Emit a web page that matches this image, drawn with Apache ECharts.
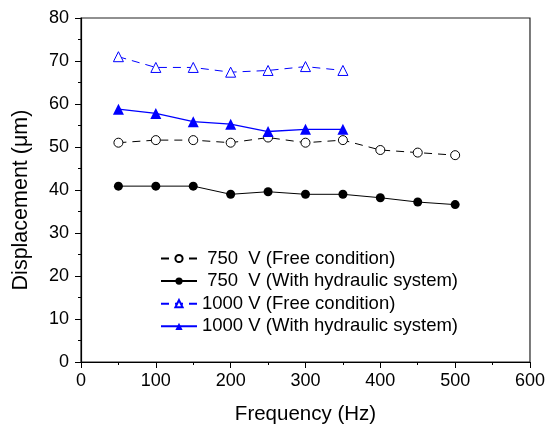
<!DOCTYPE html>
<html>
<head>
<meta charset="utf-8">
<script src="https://cdn.jsdelivr.net/npm/echarts@6/dist/echarts.min.js"></script>
<style>
html, body { margin: 0; padding: 0; background: #fff; }
#chart { width: 548px; height: 430px; }
</style>
</head>
<body>
<div id="chart"></div>
<script>
// 数据
var freqLong = [50, 100, 150, 200, 250, 300, 350, 400, 450, 500];
var freqShort = [50, 100, 150, 200, 250, 300, 350];
var v750Free = [51.0, 51.6, 51.6, 51.0, 52.2, 51.0, 51.6, 49.3, 48.7, 48.1];
var v750Hyd = [40.9, 40.9, 40.9, 39.0, 39.6, 39.0, 39.0, 38.2, 37.2, 36.6];
var v1000Free = [71.0, 68.5, 68.5, 67.4, 67.8, 68.7, 67.8];
var v1000Hyd = [58.8, 57.8, 55.9, 55.3, 53.6, 54.1, 54.1];
var names = [' 750  V (Free condition)', ' 750  V (With hydraulic system)', '1000 V (Free condition)', '1000 V (With hydraulic system)'];

function pairs(xs, ys) {
    var out = [];
    for (var i = 0; i < xs.length; i++) out.push([xs[i], ys[i]]);
    return out;
}

var chart = echarts.init(document.getElementById('chart'));
var font = 'Liberation Sans, Arial, sans-serif';
var option = {
    animation: false,
    grid: {
        left: 81, right: 17, top: 18, bottom: 66,
        show: true, borderColor: '#222', borderWidth: 1.2
    },
    legend: {
        orient: 'vertical',
        left: 155, top: 244,
        itemWidth: 36, itemHeight: 9, itemGap: 3.6,
        textStyle: { fontFamily: font, fontSize: 18.5, color: '#000' },
        data: names
    },
    xAxis: {
        type: 'value', min: 0, max: 600, interval: 100,
        name: 'Frequency (Hz)', nameLocation: 'middle', nameGap: 42,
        nameTextStyle: { fontFamily: font, fontSize: 20.5, color: '#000' },
        axisLine: { lineStyle: { color: '#000', width: 1.2 } },
        axisTick: { inside: false, length: 6, lineStyle: { color: '#000' } },
        minorTick: { show: true, splitNumber: 2, length: 3, lineStyle: { color: '#000' } },
        axisLabel: { fontFamily: font, fontSize: 18, color: '#000', margin: 10 },
        splitLine: { show: false }
    },
    yAxis: {
        type: 'value', min: 0, max: 80, interval: 10,
        name: 'Displacement (\u03bcm)', nameLocation: 'middle', nameGap: 49,
        nameTextStyle: { fontFamily: font, fontSize: 21.5, color: '#000', padding: [0, 20, 0, 0] },
        axisLine: { show: true, lineStyle: { color: '#000', width: 1.2 } },
        axisTick: { show: true, inside: false, length: 6, lineStyle: { color: '#000' } },
        minorTick: { show: true, splitNumber: 2, length: 3, lineStyle: { color: '#000' } },
        axisLabel: { fontFamily: font, fontSize: 18, color: '#000', margin: 12 },
        splitLine: { show: false }
    },
    series: [
        {
            name: names[0], type: 'line', data: pairs(freqLong, v750Free),
            symbol: 'circle', symbolSize: 9,
            lineStyle: { color: '#000', width: 1, type: [8, 6] },
            itemStyle: { color: '#fff', borderColor: '#000', borderWidth: 1 }
        },
        {
            name: names[1], type: 'line', data: pairs(freqLong, v750Hyd),
            symbol: 'circle', symbolSize: 9,
            lineStyle: { color: '#000', width: 1 },
            itemStyle: { color: '#000' }
        },
        {
            name: names[2], type: 'line', data: pairs(freqShort, v1000Free),
            symbol: 'triangle', symbolSize: 10,
            lineStyle: { color: '#0000ff', width: 1, type: [8, 6] },
            itemStyle: { color: '#fff', borderColor: '#0000ff', borderWidth: 1 }
        },
        {
            name: names[3], type: 'line', data: pairs(freqShort, v1000Hyd),
            symbol: 'triangle', symbolSize: 11,
            lineStyle: { color: '#0000ff', width: 1.3 },
            itemStyle: { color: '#0000ff' }
        }
    ]
};
chart.setOption(option);
</script>
</body>
</html>
